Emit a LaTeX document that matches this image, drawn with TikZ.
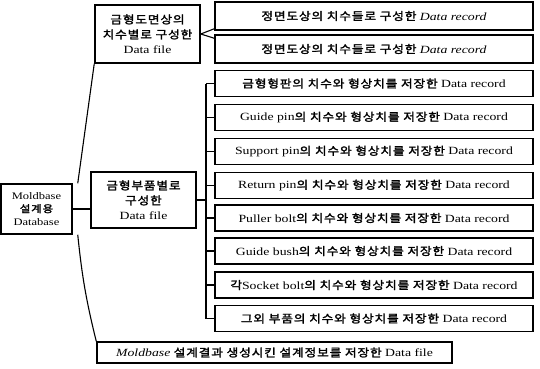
\documentclass[tikz,border=0pt]{standalone}
\usepackage{fontspec}
\setmainfont{Liberation Serif}[FakeStretch=1.25]
\newfontfamily\kr{Noto Sans CJK KR}[FakeStretch=1.15,FakeBold=2,LetterSpace=8]
\newcommand\K[1]{{\kr #1}}
\begin{document}
\begin{tikzpicture}[x=1pt,y=-1pt,
  box/.style={draw,line width=1.5pt,inner sep=1pt,align=center,font=\fontsize{11}{13}\selectfont},
  rec/.style={box,minimum width=318pt,minimum height=26pt},
  conn/.style={line width=1.1pt}]
\useasboundingbox (0,0) rectangle (540,368);
\node[box,minimum width=71pt,minimum height=50pt,font=\fontsize{10}{13}\selectfont] (root) at (36.5,209) {Moldbase\\\K{설계용}\\Database};
\node[box,minimum width=105pt,minimum height=58pt,font=\fontsize{11}{15}\selectfont] (A) at (147.5,34) {\K{금형도면상의}\\\K{치수별로 구성한}\\Data file};
\node[box,minimum width=105pt,minimum height=56pt,font=\fontsize{11}{15}\selectfont] (B) at (143.5,200) {\K{금형부품별로}\\\K{구성한}\\Data file};
\node[box,minimum width=355pt,minimum height=21pt] (C) at (274.5,352.5) {\textit{Moldbase} \K{설계결과 생성시킨 설계정보를 저장한} Data file};
\node[rec,minimum height=28pt] (r1) at (374,16) {\K{정면도상의 치수들로 구성한} \textit{Data record}};
\node[rec,minimum height=28pt] (r2) at (374,49) {\K{정면도상의 치수들로 구성한} \textit{Data record}};
\node[rec] (g1) at (374,83.5) {\K{금형형판의 치수와 형상치를 저장한} Data record};
\node[rec] (g2) at (374,117.5) {Guide pin\K{의 치수와 형상치를 저장한} Data record};
\node[rec] (g3) at (374,151.5) {Support pin\K{의 치수와 형상치를 저장한} Data record};
\node[rec] (g4) at (374,185.5) {Return pin\K{의 치수와 형상치를 저장한} Data record};
\node[rec] (g5) at (374,218) {Puller bolt\K{의 치수와 형상치를 저장한} Data record};
\node[rec] (g6) at (374,251) {Guide bush\K{의 치수와 형상치를 저장한} Data record};
\node[rec] (g7) at (374,285) {\K{각}Socket bolt\K{의 치수와 형상치를 저장한} Data record};
\node[rec] (g8) at (374,318.5) {\K{그외 부품의 치수와 형상치를 저장한} Data record};
\coordinate (bt) at (206,83.5);
\coordinate (bb) at (206,318.5);
% root connections
\draw[conn] ([xshift=5pt]root.north east) -- (A.south west);
\draw[conn] (root.east) -- (B.west |- root.east);
\draw[conn] ([xshift=5pt]root.south east) to[bend right=4] (C.north west);
% A to records
\draw[conn] (A.east) -- ([yshift=2pt]r1.south west);
\draw[conn] (A.east) -- ([yshift=-4pt]r2.north west);
% bus
\draw[conn] (bt) -- (bb);
\draw[conn] (B.east) -- (B.east -| bt);
\foreach \g in {g1,g2,g3,g4,g5,g6,g7,g8}
  \draw[conn] (\g.west -| bt) -- (\g.west);
\end{tikzpicture}
\end{document}
